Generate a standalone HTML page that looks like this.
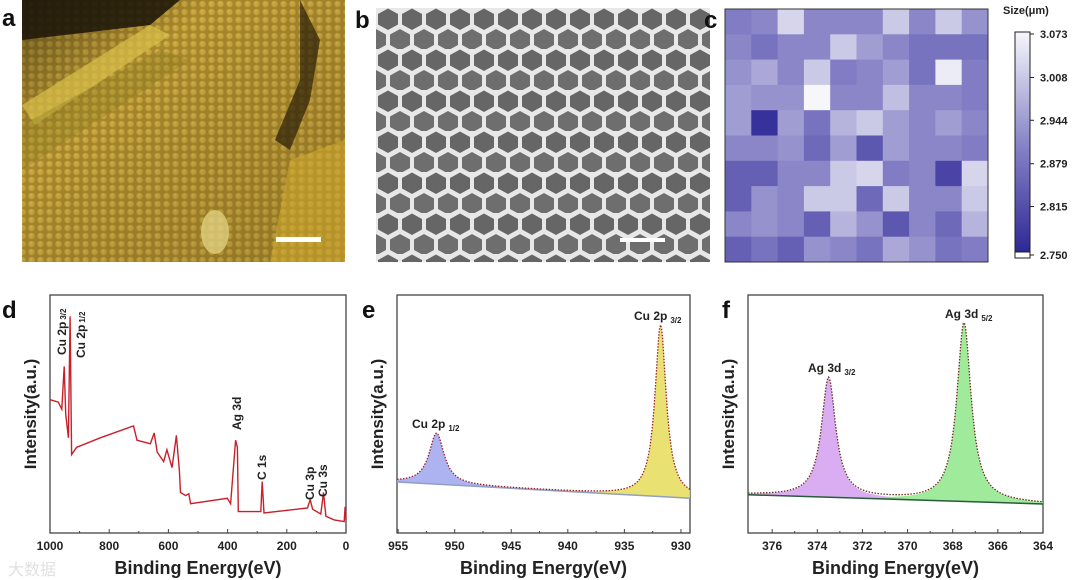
<!DOCTYPE html>
<html><head><meta charset="utf-8">
<style>
html,body{margin:0;padding:0;background:#fff;}
body{width:1080px;height:580px;overflow:hidden;position:relative;font-family:"Liberation Sans",Arial,sans-serif;}
svg{position:absolute;left:0;top:0;}
text{font-family:"Liberation Sans",Arial,sans-serif;}
</style></head>
<body>
<svg id="fig" width="1080" height="580" viewBox="0 0 1080 580">
<defs>
  <pattern id="honey" width="9" height="8" patternUnits="userSpaceOnUse">
    <rect width="9" height="8" fill="#a8882c"/>
    <circle cx="4.5" cy="4" r="3.2" fill="#c7a43e"/>
    <circle cx="4" cy="3.4" r="1.4" fill="#d8b650" opacity="0.7"/>
  </pattern>
  <pattern id="hex" width="24" height="41" patternUnits="userSpaceOnUse" x="376" y="8">
    <rect width="24" height="41" fill="#e8e8e8"/>
    <polygon points="12,0.5 22,6 22,16.5 12,22 2,16.5 2,6" fill="#666"/>
    <polygon points="0,21 10,26.5 10,37 0,42.5 -10,37 -10,26.5" fill="#6e6e6e"/>
    <polygon points="24,21 34,26.5 34,37 24,42.5 14,37 14,26.5" fill="#6e6e6e"/>
  </pattern>
  <linearGradient id="goldShade" x1="0" y1="0" x2="1" y2="1">
    <stop offset="0" stop-color="#000" stop-opacity="0.45"/>
    <stop offset="0.3" stop-color="#000" stop-opacity="0"/>
    <stop offset="1" stop-color="#3a2a00" stop-opacity="0.2"/>
  </linearGradient>
  <linearGradient id="cbar" x1="0" y1="1" x2="0" y2="0">
    <stop offset="0" stop-color="#2e2896"/>
    <stop offset="0.5" stop-color="#8a86c8"/>
    <stop offset="1" stop-color="#f7f7fb"/>
  </linearGradient>
</defs>

<g>
  <rect x="22" y="0" width="323" height="262" fill="url(#honey)"/>
  <rect x="22" y="0" width="323" height="262" fill="url(#goldShade)"/>
  <path d="M22,0 L180,0 L150,25 L22,40 Z" fill="#1a1408" opacity="0.85"/>
  <path d="M22,105 L150,25 L170,35 L35,125 Z" fill="#d9c04a" opacity="0.7"/>
  <path d="M22,125 L160,50 L190,60 L22,170 Z" fill="#8a7a20" opacity="0.35"/>
  <path d="M300,0 L320,40 L310,100 L290,150 L275,140 L300,80 Z" fill="#2a1e08" opacity="0.7"/>
  <ellipse cx="215" cy="232" rx="14" ry="22" fill="#e0d080" opacity="0.8"/>
  <path d="M290,160 L345,140 L345,262 L270,262 Z" fill="#d8b030" opacity="0.5"/>
  <rect x="276" y="237" width="45" height="5" fill="#fff"/>
</g>
<g>
  <rect x="376" y="8" width="334" height="254" fill="url(#hex)"/>
  <rect x="620" y="238" width="45" height="4" fill="#fff"/>
</g>

<g font-weight="bold" font-size="24" fill="#111">
  <text x="2" y="26">a</text>
  <text x="355" y="28">b</text>
  <text x="704" y="28">c</text>
  <text x="2" y="318">d</text>
  <text x="362" y="318">e</text>
  <text x="722" y="318">f</text>
</g>

<g id="heat"></g>
<g id="cb"></g>
<g id="pd"></g>
<g id="pe"></g>
<g id="pf"></g>
<text x="8" y="575" font-size="16" fill="#ccc" opacity="0.6">大数据</text>
</svg>

<script>
const heatValues = [
 [2.895,2.911,3.024,2.911,2.911,2.911,3.008,2.911,3.008,2.928],
 [2.911,2.879,2.911,2.911,3.008,2.944,2.911,2.879,2.879,2.879],
 [2.928,2.960,2.911,3.008,2.895,2.911,2.944,2.879,3.057,2.895],
 [2.944,2.928,2.928,3.073,2.911,2.911,2.992,2.911,2.911,2.895],
 [2.944,2.766,2.944,2.879,2.976,3.008,2.944,2.911,2.944,2.911],
 [2.911,2.911,2.928,2.863,2.944,2.831,2.944,2.911,2.911,2.895],
 [2.847,2.847,2.911,2.911,3.008,3.024,2.895,2.911,2.798,3.024],
 [2.847,2.928,2.911,3.008,3.008,2.863,3.008,2.911,2.911,3.008],
 [2.911,2.928,2.911,2.847,2.976,2.928,2.831,2.911,2.863,2.976],
 [2.847,2.879,2.847,2.928,2.911,2.879,2.960,2.928,2.879,2.895]
];
const cbTicks = [3.073,3.008,2.944,2.879,2.815,2.750];

const surveyE = [1000,972,960,952,947,938,932,927,910,830,718,706,661,648,638,616,605,588,573,563,559,542,531,525,401,390,373,367,364,288,283,277,130,121,113,85,76,68,40,6,3,0];
const surveyI = [56,55,52,70,50,40,91,33,36,40,45,39,37.5,42,34,30,35,27.5,41,26,17,15.7,16.5,12.3,14.6,12.3,39,36,9,9,21.6,8.4,10.5,14,10,8,17,7,5.5,4.8,11,5.5];
const surveyTicks = [1000,800,600,400,200,0];

const cuCenters = [951.6,931.8];
const cuHeights = [44,148];
const cuWidths = [0.8,0.6];
const cuBaseline = [44,30];
const cuTicks = [955,950,945,940,935,930];

const agCenters = [373.5,367.5];
const agHeights = [103,154];
const agWidths = [0.38,0.38];
const agBaseline = [33,25];
const agTicks = [376,374,372,370,368,366,364];

const NS="http://www.w3.org/2000/svg";
function mk(tag,attrs,parent){const e=document.createElementNS(NS,tag);for(const k in attrs)e.setAttribute(k,attrs[k]);parent.appendChild(e);return e;}
function colorFor(v){
  const t=Math.max(0,Math.min(1,(v-2.75)/(3.073-2.75)));
  const a=[46,40,150],m=[138,134,200],b=[247,247,251];
  let c; if(t<0.5){const u=t/0.5;c=a.map((x,i)=>x+(m[i]-x)*u);}else{const u=(t-0.5)/0.5;c=m.map((x,i)=>x+(b[i]-x)*u);}
  return `rgb(${c.map(Math.round).join(',')})`;
}

(function(){
  const g=document.getElementById('heat');
  const x0=725,y0=9,w=263,h=253,n=10;
  const cx=c=>x0+c*w/n, cy=r=>y0+r*h/n;
  heatValues.forEach((row,r)=>row.forEach((v,c)=>{
    const e=mk('rect',{x:cx(c),y:cy(r),width:w/n+0.5,height:h/n+0.5,fill:colorFor(v)},g);
    
    
  }));
  mk('rect',{x:x0,y:y0,width:w,height:h,fill:'none',stroke:'#333','stroke-width':1},g);
  const cb=document.getElementById('cb');
  const by0=32,by1=252;
  mk('rect',{x:1015,y:by0,width:15,height:by1-by0,fill:'url(#cbar)',stroke:'#222','stroke-width':1},cb);
  mk('rect',{x:1015,y:by1,width:15,height:6,fill:'#fff',stroke:'#222','stroke-width':1},cb);
  const yv=v=>by1-(v-2.75)/(3.073-2.75)*(by1-by0-4)-2;
  cbTicks.forEach(v=>{
    const y=v===2.75?by1+3:yv(v);
    mk('line',{x1:1030,x2:1034,y1:y,y2:y,stroke:'#222'},cb);
    const t=mk('text',{x:1040,y:y+4,'font-size':11,'font-weight':'bold',fill:'#222'},cb);
    t.textContent=v.toFixed(3);
    
    
  });
  const tt=mk('text',{x:1003,y:14,'font-size':11,'font-weight':'bold',fill:'#222'},cb);
  tt.textContent='Size(μm)';
  
  
})();

function frame(g,box,ticks,xf,minor){
  mk('rect',{x:box.x0,y:box.y0,width:box.x1-box.x0,height:box.y1-box.y0,fill:'none',stroke:'#444','stroke-width':1.3},g);
  ticks.forEach(v=>{
    const x=xf(v);
    mk('line',{x1:x,x2:x,y1:box.y1,y2:box.y1-4,stroke:'#444'},g);
    const t=mk('text',{x:x,y:box.y1+17,'font-size':12,'font-weight':'bold','text-anchor':'middle',fill:'#222'},g);
    t.textContent=v;
    
    
  });
  minor.forEach(v=>{const x=xf(v);mk('line',{x1:x,x2:x,y1:box.y1,y2:box.y1-2,stroke:'#444'},g);});
  const xt=mk('text',{x:(box.x0+box.x1)/2,y:574,'font-size':18,'font-weight':'bold','text-anchor':'middle',fill:'#222'},g);
  xt.textContent='Binding Energy(eV)';
  
  
  const yx=box.x0-14, yy=(box.y0+box.y1)/2;
  const yt=mk('text',{x:yx,y:yy,'font-size':17,'font-weight':'bold','text-anchor':'middle',fill:'#222',transform:`rotate(-90 ${yx} ${yy})`},g);
  yt.textContent='Intensity(a.u.)';
  
  
}
function vlabel(g,x,y,main,sub,name,size){
  const t=mk('text',{x:x,y:y,'font-size':size||12,'font-weight':'bold',fill:'#222',transform:`rotate(-90 ${x} ${y})`},g);
  t.textContent=main;
  if(sub){const s=mk('tspan',{'font-size':8,dx:2},t);s.textContent=sub;}
  
  
}
function hlabel(g,x,y,main,sub,name){
  const t=mk('text',{x:x,y:y,'font-size':12,'font-weight':'bold',fill:'#222'},g);
  t.textContent=main;
  if(sub){const s=mk('tspan',{'font-size':8,dx:3,dy:3},t);s.textContent=sub;}
  
  
}

(function(){
  const g=document.getElementById('pd');
  const box={x0:50,x1:346,y0:295,y1:533};
  const xf=E=>box.x0+(1000-E)/1000*(box.x1-box.x0);
  const yf=I=>box.y1-I*2.38;
  frame(g,box,surveyTicks,xf,[900,700,500,300,100]);
  const d=surveyE.map((E,i)=>(i?'L':'M')+xf(E).toFixed(1)+','+yf(surveyI[i]).toFixed(1)).join(' ');
  const p=mk('path',{d:d,fill:'none',stroke:'#c8202a','stroke-width':1.4},g);
  
  
  vlabel(g,66,355,'Cu 2p','3/2','label-cu2p32');
  vlabel(g,85,358,'Cu 2p','1/2','label-cu2p12');
  vlabel(g,241,430,'Ag 3d',null,'label-ag3d');
  vlabel(g,266,480,'C 1s',null,'label-c1s');
  vlabel(g,314,500,'Cu 3p',null,'label-cu3p');
  vlabel(g,327,497,'Cu 3s',null,'label-cu3s');
})();

function peakPanel(id,box,eL,eR,ticks,minor,centers,heights,widths,base,fills,lineCol,baseCol){
  const g=document.getElementById(id);
  const xf=E=>box.x0+(eL-E)/(eL-eR)*(box.x1-box.x0);
  const yf=I=>box.y1-I*1.16;
  frame(g,box,ticks,xf,minor);
  const N=300, Es=[];
  for(let i=0;i<=N;i++)Es.push(eL-(eL-eR)*i/N);
  const bl=E=>base[0]+(base[1]-base[0])*(eL-E)/(eL-eR);
  const lor=(E,k)=>heights[k]/(1+Math.pow((E-centers[k])/widths[k],2));
  centers.forEach((c,k)=>{
    let d='M'+xf(Es[0])+','+yf(bl(Es[0]));
    Es.forEach(E=>{d+=' L'+xf(E).toFixed(1)+','+yf(bl(E)+lor(E,k)).toFixed(1);});
    d+=' L'+xf(Es[N])+','+yf(bl(Es[N]))+' Z';
    const p=mk('path',{d:d,fill:fills[k],stroke:'none',opacity:0.85},g);
    
    
  });
  const bp=mk('line',{x1:xf(eL),y1:yf(bl(eL)),x2:xf(eR),y2:yf(bl(eR)),stroke:baseCol,'stroke-width':1.5},g);
  
  
  let d='';
  Es.forEach((E,i)=>{let s=bl(E);centers.forEach((c,k)=>s+=lor(E,k));d+=(i?'L':'M')+xf(E).toFixed(1)+','+yf(s).toFixed(1)+' ';});
  const env=mk('path',{d:d,fill:'none',stroke:lineCol,'stroke-width':1.3,'stroke-dasharray':'1.5 1.5'},g);
  
  
  return {g,xf,yf};
}
(function(){
  const box={x0:397,x1:690,y0:295,y1:533};
  const r=peakPanel('pe',box,955.1,929.2,cuTicks,[952.5,947.5,942.5,937.5,932.5],cuCenters,cuHeights,cuWidths,cuBaseline,['#9fa6ee','#e6dc5a'],'#a02030','#8fa0c0');
  hlabel(r.g,412,428,'Cu 2p','1/2','label-cu2p12');
  hlabel(r.g,634,320,'Cu 2p','3/2','label-cu2p32');
})();
(function(){
  const box={x0:748,x1:1043,y0:295,y1:533};
  const r=peakPanel('pf',box,377.07,364,agTicks,[375,373,371,369,367,365],agCenters,agHeights,agWidths,agBaseline,['#d49ef0','#8ee88a'],'#6a3020','#2a5a3a');
  hlabel(r.g,808,372,'Ag 3d','3/2','label-ag3d32');
  hlabel(r.g,945,318,'Ag 3d','5/2','label-ag3d52');
})();
</script>
</body></html>
